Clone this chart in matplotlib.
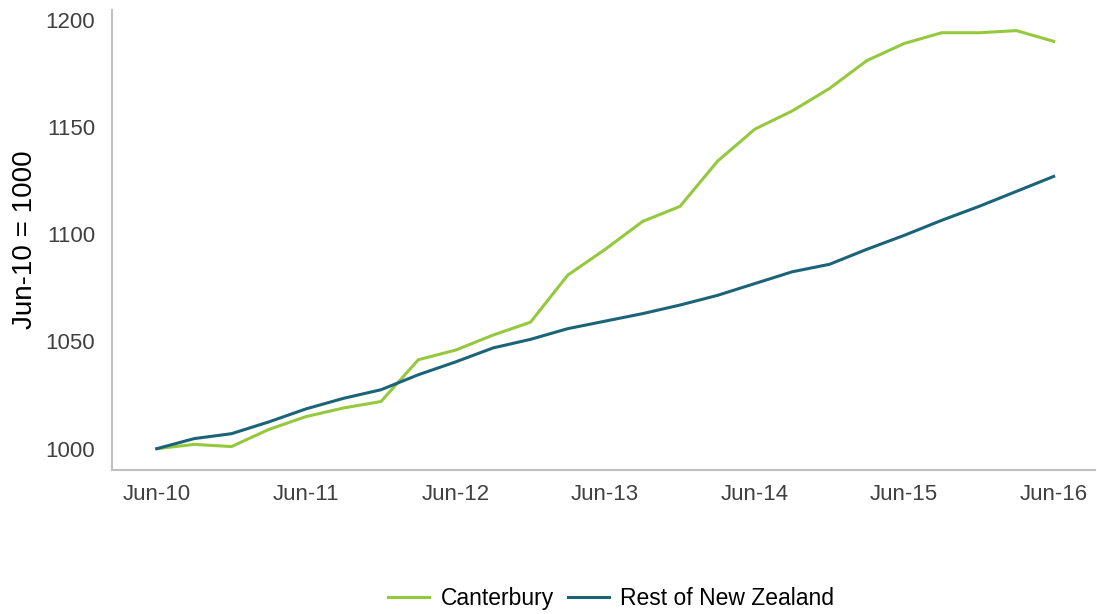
import matplotlib
matplotlib.use("Agg")
import matplotlib.pyplot as plt

# Quarterly index, Jun-10 = 1000
quarters = list(range(25))
tick_pos = [0, 4, 8, 12, 16, 20, 24]
tick_labels = ["Jun-10", "Jun-11", "Jun-12", "Jun-13", "Jun-14", "Jun-15", "Jun-16"]

canterbury = [1000, 1002, 1001, 1009, 1015, 1019, 1022, 1041.5, 1046, 1053,
              1059, 1081, 1093, 1106, 1113, 1134, 1149, 1157.5, 1168, 1181,
              1189, 1194, 1194, 1195, 1190]
rest_nz = [1000, 1004.7, 1007, 1012.5, 1018.6, 1023.5, 1027.5, 1034.5, 1040.5, 1047,
           1051, 1056, 1059.5, 1063, 1067, 1071.5, 1077, 1082.5, 1086, 1093,
           1099.5, 1106.5, 1113, 1120, 1127]

plt.rcParams['font.family'] = ['Liberation Sans', 'DejaVu Sans']

fig = plt.figure(figsize=(10.97, 6.14), dpi=100)
ax = fig.add_axes([0.102, 0.235, 0.896, 0.749])

ax.plot(quarters, canterbury, color="#95C93D", lw=2.2, label="Canterbury")
ax.plot(quarters, rest_nz, color="#1B6478", lw=2.2, label="Rest of New Zealand")

ax.set_xlim(-1.2, 25.1)
ax.set_ylim(990.2, 1204.7)
ax.set_xticks(tick_pos)
ax.set_xticklabels(tick_labels)
ax.set_yticks([1000, 1050, 1100, 1150, 1200])
ax.tick_params(length=0, labelsize=16, colors="#404040", pad=10)
ax.tick_params(axis="y", pad=12)
ax.set_ylabel("Jun-10 = 1000", fontsize=20, color="#000000")
ax.yaxis.set_label_coords(-0.075, 0.5)

for side in ["top", "right"]:
    ax.spines[side].set_visible(False)
for side in ["left", "bottom"]:
    ax.spines[side].set_color("#BFBFBF")
    ax.spines[side].set_linewidth(1.5)

fig.legend(loc="center", bbox_to_anchor=(0.557, 0.026), ncol=2, frameon=False,
           fontsize=16.5, handlelength=1.8, handletextpad=0.5, columnspacing=0.6)

fig.savefig("out.png", dpi=100)
